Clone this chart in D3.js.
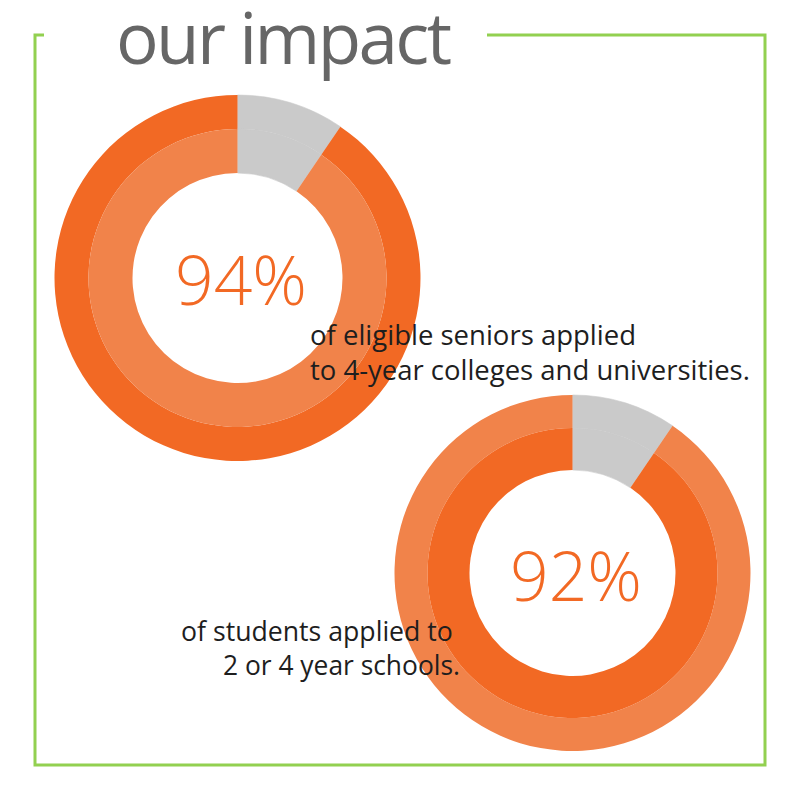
<!DOCTYPE html>
<html>
<head>
<meta charset="utf-8">
<script src="https://cdn.jsdelivr.net/npm/d3@7"></script>
<style>
  html, body { margin: 0; padding: 0; background: #fff; }
  svg { display: block; }
</style>
</head>
<body>
<svg id="chart" width="800" height="801"></svg>
<script>
// ---- data ----
const title = "our impact";
const categories = ["not applied", "applied"];
const chart1Outer = [9.5, 90.5];
const chart1Inner = [9.5, 90.5];
const chart2Outer = [9.5, 90.5];
const chart2Inner = [9.5, 90.5];
const percentLabels = ["94%", "92%"];
const chart1Caption = ["of eligible seniors applied", "to 4-year colleges and universities."];
const chart2Caption = ["of students applied to", "2 or 4 year schools."];

// ---- styles ----
const GRAY = "#CACACA";
const DARK = "#F26924";
const LIGHT = "#F1834A";
const GREEN = "#92D050";
const FONT = "'Open Sans', 'Noto Sans', sans-serif";

const svg = d3.select("#chart");

// frame
svg.append("path")
  .attr("d", "M44,35 H35 V765 H765 V35 H487")
  .attr("fill", "none")
  .attr("stroke", GREEN)
  .attr("stroke-width", 3);

// fit text width helper
function fitText(sel, targetWidth) {
  const base = parseFloat(sel.attr("font-size"));
  const w = sel.node().getComputedTextLength();
  if (w > 0) sel.attr("font-size", (base * targetWidth / w).toFixed(2));
}

// title
svg.append("text")
  .attr("x", 116).attr("y", 64)
  .attr("font-family", FONT)
  .attr("font-size", 71)
  .attr("textLength", 336)
  .attr("lengthAdjust", "spacing")
  .attr("fill", "#666666")
  .text(title);

const pie = d3.pie().sort(null).value(d => d);

function donut(cx, cy, rings) {
  const g = svg.append("g").attr("transform", `translate(${cx},${cy})`);
  rings.forEach(r => {
    const arc = d3.arc().innerRadius(r.inner).outerRadius(r.outer);
    g.selectAll(null)
      .data(pie(r.values))
      .enter().append("path")
      .attr("d", arc)
      .attr("fill", (d, i) => categories[i] === "applied" ? r.color : GRAY)
      .attr("stroke", (d, i) => categories[i] === "applied" ? "none" : GRAY)
      .attr("stroke-width", 0.6);
  });
  return g;
}

donut(237.5, 278, [
  { values: chart1Outer, inner: 149, outer: 183, color: DARK },
  { values: chart1Inner, inner: 105, outer: 149, color: LIGHT }
]);
donut(572.5, 573, [
  { values: chart2Outer, inner: 145, outer: 178, color: LIGHT },
  { values: chart2Inner, inner: 103, outer: 145, color: DARK }
]);

// percentages
const pctPos = [{ x: 241, y: 305 }, { x: 576, y: 601 }];
percentLabels.forEach((p, i) => {
  const tx = svg.append("text")
    .attr("x", pctPos[i].x).attr("y", pctPos[i].y)
    .attr("text-anchor", "middle")
    .attr("font-family", FONT)
    .attr("font-weight", 300)
    .attr("font-size", 70)
    .attr("fill", "#F26924")
    .text(p);
  fitText(tx, 132);
});

// captions
function caption(lines, pos, widths) {
  lines.forEach((line, i) => {
    const tx = svg.append("text")
      .attr("x", pos[i].x).attr("y", pos[i].y)
      .attr("font-family", FONT)
      .attr("font-size", 23)
      .attr("fill", "#1e1e1e")
      .text(line);
    fitText(tx, widths[i]);
  });
}
caption(chart1Caption, [{ x: 310, y: 345 }, { x: 310, y: 380 }], [326, 440]);
caption(chart2Caption, [{ x: 181, y: 641 }, { x: 223, y: 675 }], [272, 237]);
</script>
</body>
</html>
